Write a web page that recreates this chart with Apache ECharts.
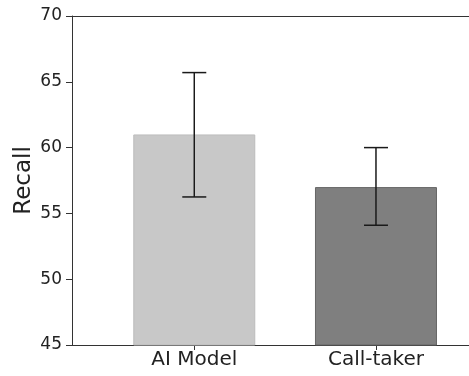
<!DOCTYPE html>
<html>
<head>
<meta charset="utf-8">
<script src="https://cdn.jsdelivr.net/npm/echarts@6/dist/echarts.min.js"></script>
<style>html,body{margin:0;padding:0;background:#fff;}#c{width:469px;height:376px;}</style>
</head>
<body>
<div id="c"></div>
<script>
var categories = ['AI Model', 'Call-taker'];
var recall = [61.0, 57.0];
var errLow = [56.25, 54.1];
var errHigh = [65.7, 60.0];
var yTicks = [45, 50, 55, 60, 65, 70];

var barColors = ['#c8c8c8', '#7f7f7f'];
var barBorders = ['#bdbdbd', '#666666'];
var font = 'DejaVu Sans';

var chart = echarts.init(document.getElementById('c'));
chart.setOption({
  animation: false,
  grid: { left: 72, right: 0, top: 16, bottom: 31, containLabel: false, outerBoundsMode: 'none' },
  xAxis: [{
    type: 'value', min: -0.673, max: 1.512,
    splitLine: { show: false },
    axisLine: { show: true, onZero: false, lineStyle: { color: '#333', width: 1 } },
    axisTick: { show: true, length: 5, lineStyle: { color: '#333' }, customValues: [0, 1] },
    axisLabel: { customValues: [0, 1], formatter: function (v) { return categories[Math.round(v)]; }, fontFamily: font, fontSize: 20, color: '#222', margin: 5 }
  }, {
    type: 'value', position: 'top', min: -0.673, max: 1.512,
    splitLine: { show: false },
    axisLine: { show: true, onZero: false, lineStyle: { color: '#333', width: 1 } },
    axisTick: { show: false }, axisLabel: { show: false }
  }],
  yAxis: {
    type: 'value', min: 45, max: 70, interval: 5,
    name: 'Recall', nameLocation: 'middle', nameGap: 36, nameMoveOverlap: false,
    nameTextStyle: { fontFamily: font, fontSize: 23, color: '#222' },
    splitLine: { show: false },
    axisLine: { show: true, onZero: false, lineStyle: { color: '#333', width: 1 } },
    axisTick: { show: true, length: 6, lineStyle: { color: '#333' } },
    axisLabel: { fontFamily: font, fontSize: 17, color: '#222', margin: 10,
      customValues: yTicks }
  },
  series: [
    {
      type: 'bar', barWidth: 122,
      data: recall.map(function (v, i) {
        return { value: [i, v], itemStyle: { color: barColors[i], borderColor: barBorders[i], borderWidth: 1 } };
      })
    },
    {
      type: 'custom',
      encode: { x: 0, y: [1, 2] },
      clip: false,
      data: recall.map(function (v, i) { return [i, errLow[i], errHigh[i]]; }),
      renderItem: function (params, api) {
        var x = api.value(0);
        var lo = api.coord([x, api.value(1)]);
        var hi = api.coord([x, api.value(2)]);
        var cap = 12;
        var st = { stroke: '#1a1a1a', lineWidth: 1.5, fill: null };
        return {
          type: 'group',
          children: [
            { type: 'line', shape: { x1: lo[0], y1: lo[1], x2: hi[0], y2: hi[1] }, style: st },
            { type: 'line', shape: { x1: lo[0] - cap, y1: lo[1], x2: lo[0] + cap, y2: lo[1] }, style: st },
            { type: 'line', shape: { x1: hi[0] - cap, y1: hi[1], x2: hi[0] + cap, y2: hi[1] }, style: st }
          ]
        };
      },
      z: 10
    }
  ]
});
</script>
</body>
</html>
